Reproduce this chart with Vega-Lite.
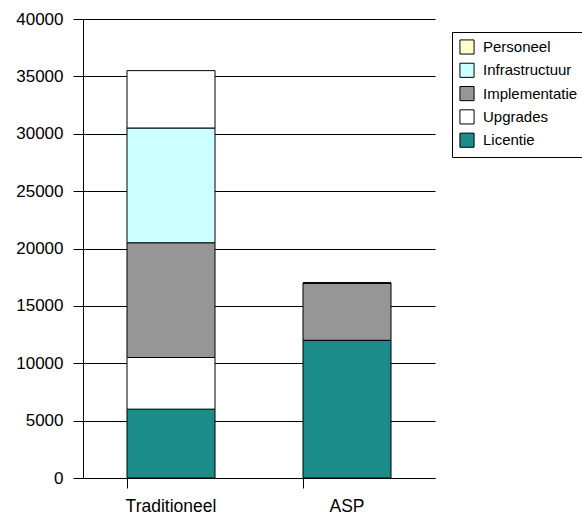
{
  "$schema": "https://vega.github.io/schema/vega-lite/v6.json",
  "autosize": {"type": "none"},
  "padding": {"left": 83, "top": 19, "right": 147, "bottom": 37},
  "width": 352,
  "height": 459,
  "background": "white",
  "data": {
    "values": [
      {"categorie": "Traditioneel", "serie": "Licentie", "volgorde": 1, "waarde": 6000},
      {"categorie": "Traditioneel", "serie": "Upgrades", "volgorde": 2, "waarde": 4500},
      {"categorie": "Traditioneel", "serie": "Implementatie", "volgorde": 3, "waarde": 10000},
      {"categorie": "Traditioneel", "serie": "Infrastructuur", "volgorde": 4, "waarde": 10000},
      {"categorie": "Traditioneel", "serie": "Upgrades", "volgorde": 5, "waarde": 5000},
      {"categorie": "ASP", "serie": "Licentie", "volgorde": 1, "waarde": 12000},
      {"categorie": "ASP", "serie": "Upgrades", "volgorde": 2, "waarde": 0},
      {"categorie": "ASP", "serie": "Implementatie", "volgorde": 3, "waarde": 5000},
      {"categorie": "ASP", "serie": "Infrastructuur", "volgorde": 4, "waarde": 0},
      {"categorie": "ASP", "serie": "Personeel", "volgorde": 5, "waarde": 0}
    ]
  },
  "config": {
    "font": "Liberation Sans",
    "view": {"stroke": null}
  },
  "mark": {"type": "bar", "stroke": "black", "strokeWidth": 1},
  "encoding": {
    "x": {
      "field": "categorie",
      "type": "nominal",
      "sort": ["Traditioneel", "ASP"],
      "scale": {"paddingInner": 0.5, "paddingOuter": 0.25},
      "axis": {
        "title": null,
        "labelAngle": 0,
        "labelFont": "Liberation Sans",
        "labelFontSize": 17.5,
        "labelColor": "black",
        "labelPadding": 9,
        "bandPosition": 0,
        "tickSize": 10,
        "tickColor": "black",
        "domainColor": "black",
        "ticks": true
      }
    },
    "y": {
      "field": "waarde",
      "type": "quantitative",
      "aggregate": "sum",
      "stack": "zero",
      "scale": {"domain": [0, 40000], "nice": false},
      "axis": {
        "title": null,
        "values": [0, 5000, 10000, 15000, 20000, 25000, 30000, 35000, 40000],
        "format": "d",
        "labelFont": "Liberation Sans",
        "labelFontSize": 17,
        "labelColor": "black",
        "labelPadding": 10,
        "tickSize": 10,
        "tickColor": "black",
        "domainColor": "black",
        "grid": true,
        "gridColor": "black",
        "gridWidth": 1
      }
    },
    "order": {"field": "volgorde", "type": "quantitative"},
    "color": {
      "field": "serie",
      "type": "nominal",
      "scale": {
        "domain": ["Personeel", "Infrastructuur", "Implementatie", "Upgrades", "Licentie"],
        "range": ["#FFFFCC", "#CCFFFF", "#969696", "#FFFFFF", "#1B8C89"]
      },
      "legend": {
        "title": null,
        "orient": "none",
        "legendX": 369,
        "legendY": 13,
        "symbolType": "square",
        "symbolSize": 200,
        "symbolStrokeColor": "black",
        "symbolStrokeWidth": 1,
        "symbolOpacity": 1,
        "labelFont": "Liberation Sans",
        "labelFontSize": 15,
        "labelColor": "black",
        "labelOffset": 8,
        "rowPadding": 3.3,
        "strokeColor": "black",
        "padding": 7,
        "fillColor": "white"
      }
    }
  }
}
